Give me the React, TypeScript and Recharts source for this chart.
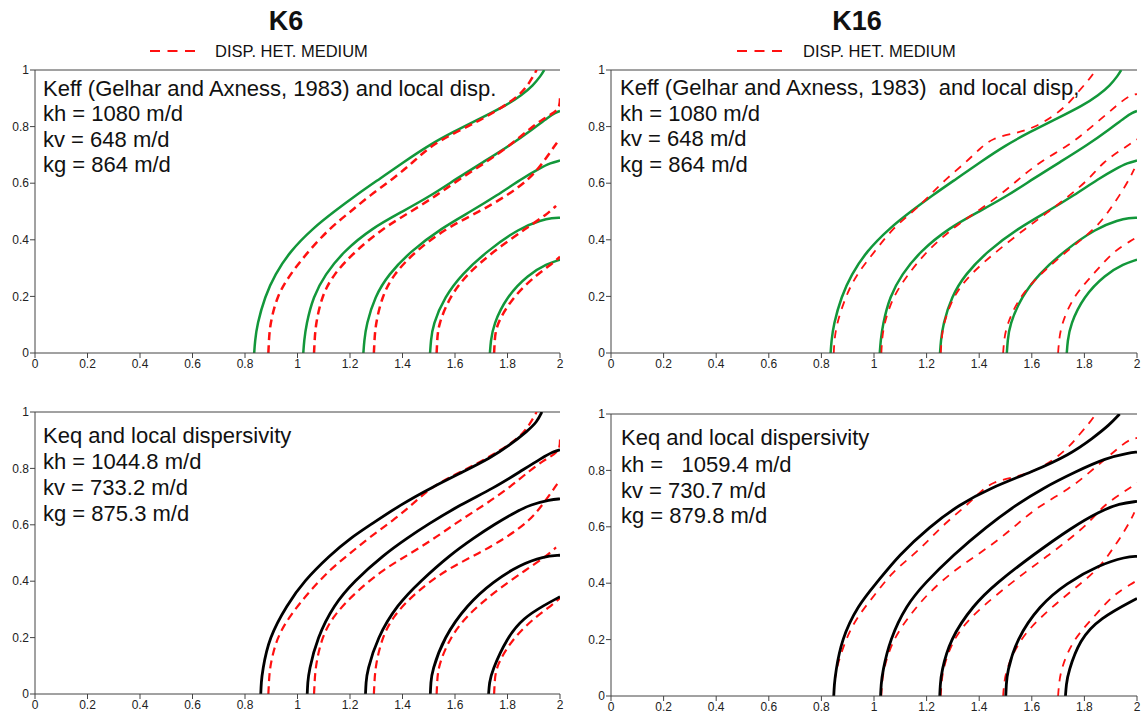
import React from 'react';
import { LineChart, Line, XAxis, YAxis, ReferenceLine } from 'recharts';

type Pair = [number, number];

const X_TICKS = [0, 0.2, 0.4, 0.6, 0.8, 1, 1.2, 1.4, 1.6, 1.8, 2];
const Y_TICKS = [0, 0.2, 0.4, 0.6, 0.8, 1];

// Keff (Gelhar and Axness) + local dispersivity — same in K6 and K16 (green)
const G1: Pair[] = [[0.835,0],[0.838,0.04],[0.846,0.1],[0.876,0.2],[0.914,0.277],[0.971,0.359],[1.06,0.442],[1.14,0.5],[1.222,0.557],[1.314,0.616],[1.405,0.675],[1.5,0.734],[1.593,0.781],[1.695,0.828],[1.795,0.875],[1.854,0.911],[1.898,0.946],[1.928,0.981],[1.94,1.0]];
const G2: Pair[] = [[1.022,0],[1.025,0.04],[1.033,0.1],[1.06,0.2],[1.105,0.277],[1.175,0.359],[1.285,0.442],[1.4,0.5],[1.51,0.557],[1.606,0.616],[1.708,0.675],[1.81,0.734],[1.899,0.793],[1.956,0.834],[1.985,0.85],[2.0,0.855]];
const G3: Pair[] = [[1.251,0],[1.254,0.04],[1.262,0.1],[1.295,0.2],[1.346,0.277],[1.43,0.359],[1.55,0.442],[1.66,0.5],[1.76,0.557],[1.855,0.616],[1.92,0.651],[1.965,0.672],[2.0,0.68]];
const G4: Pair[] = [[1.505,0],[1.508,0.04],[1.515,0.1],[1.562,0.2],[1.625,0.277],[1.72,0.359],[1.847,0.442],[1.93,0.47],[1.97,0.477],[2.0,0.478]];
const G5: Pair[] = [[1.733,0],[1.736,0.04],[1.746,0.1],[1.797,0.2],[1.879,0.277],[1.95,0.315],[2.0,0.33]];

// DISP. HET. MEDIUM — K6
const R6_1: Pair[] = [[0.889,0],[0.891,0.04],[0.895,0.1],[0.921,0.2],[0.971,0.277],[1.041,0.359],[1.124,0.442],[1.2,0.498],[1.276,0.557],[1.365,0.616],[1.441,0.675],[1.51,0.734],[1.606,0.781],[1.695,0.822],[1.771,0.863],[1.848,0.911],[1.886,0.958],[1.911,1.0]];
const R6_2: Pair[] = [[1.063,0],[1.065,0.04],[1.069,0.1],[1.092,0.2],[1.136,0.277],[1.219,0.359],[1.327,0.442],[1.43,0.498],[1.53,0.557],[1.619,0.616],[1.72,0.675],[1.81,0.734],[1.886,0.793],[1.937,0.828],[1.98,0.85],[2.0,0.87],[2.0,0.91]];
const R6_3: Pair[] = [[1.291,0],[1.293,0.04],[1.297,0.1],[1.322,0.2],[1.365,0.277],[1.448,0.359],[1.568,0.442],[1.69,0.498],[1.8,0.557],[1.886,0.616],[1.937,0.675],[1.981,0.734],[1.99,0.745]];
const R6_4: Pair[] = [[1.53,0],[1.532,0.04],[1.536,0.1],[1.581,0.2],[1.644,0.277],[1.746,0.359],[1.873,0.442],[1.95,0.49],[1.985,0.52]];
const R6_5: Pair[] = [[1.749,0],[1.751,0.04],[1.756,0.1],[1.822,0.2],[1.911,0.277],[1.97,0.315],[2.0,0.34]];

// DISP. HET. MEDIUM — K16
const R16_1: Pair[] = [[0.847,0],[0.849,0.04],[0.857,0.1],[0.892,0.2],[0.933,0.277],[1.003,0.359],[1.072,0.442],[1.148,0.498],[1.212,0.557],[1.275,0.616],[1.351,0.675],[1.4,0.72],[1.45,0.76],[1.54,0.777],[1.605,0.795],[1.681,0.835],[1.744,0.885],[1.783,0.93],[1.821,0.97],[1.843,1.0]];
const R16_2: Pair[] = [[1.028,0],[1.03,0.04],[1.037,0.1],[1.072,0.2],[1.129,0.277],[1.199,0.359],[1.3,0.442],[1.389,0.498],[1.478,0.557],[1.553,0.616],[1.629,0.675],[1.743,0.734],[1.819,0.793],[1.895,0.852],[1.946,0.893],[1.977,0.911],[2.0,0.915]];
const R16_3: Pair[] = [[1.254,0],[1.256,0.04],[1.263,0.1],[1.3,0.2],[1.364,0.277],[1.465,0.359],[1.579,0.442],[1.662,0.498],[1.744,0.557],[1.82,0.616],[1.871,0.675],[1.947,0.722],[2.0,0.755]];
const R16_4: Pair[] = [[1.491,0],[1.494,0.04],[1.504,0.1],[1.554,0.2],[1.63,0.277],[1.732,0.359],[1.845,0.442],[1.89,0.498],[1.934,0.557],[1.972,0.616],[1.99,0.651]];
const R16_5: Pair[] = [[1.7,0],[1.703,0.04],[1.712,0.1],[1.757,0.2],[1.833,0.277],[1.909,0.359],[1.98,0.398],[2.0,0.41]];

// Keq + local dispersivity — K6 (black)
const B6_1: Pair[] = [[0.86,0],[0.862,0.04],[0.866,0.08],[0.891,0.2],[0.961,0.317],[1.024,0.4],[1.126,0.494],[1.202,0.553],[1.278,0.6],[1.392,0.671],[1.506,0.73],[1.633,0.789],[1.735,0.837],[1.811,0.884],[1.874,0.931],[1.912,0.964],[1.931,1.0]];
const B6_2: Pair[] = [[1.037,0],[1.039,0.04],[1.043,0.08],[1.075,0.2],[1.139,0.317],[1.215,0.4],[1.329,0.494],[1.418,0.553],[1.494,0.6],[1.62,0.671],[1.747,0.73],[1.849,0.789],[1.931,0.837],[1.975,0.86],[2.0,0.866]];
const B6_3: Pair[] = [[1.259,0],[1.261,0.04],[1.265,0.08],[1.304,0.2],[1.38,0.317],[1.468,0.4],[1.582,0.494],[1.671,0.553],[1.747,0.6],[1.836,0.648],[1.887,0.671],[1.963,0.689],[2.0,0.692]];
const B6_4: Pair[] = [[1.506,0],[1.508,0.04],[1.512,0.08],[1.557,0.2],[1.646,0.317],[1.747,0.4],[1.849,0.459],[1.937,0.488],[2.0,0.492]];
const B6_5: Pair[] = [[1.728,0],[1.731,0.04],[1.74,0.08],[1.798,0.2],[1.861,0.27],[1.94,0.315],[2.0,0.345]];

// Keq + local dispersivity — K16 (black)
const B16_1: Pair[] = [[0.847,0],[0.849,0.04],[0.854,0.083],[0.876,0.2],[0.939,0.322],[1.009,0.4],[1.095,0.5],[1.211,0.6],[1.323,0.678],[1.44,0.737],[1.604,0.796],[1.744,0.856],[1.833,0.915],[1.896,0.962],[1.934,1.0]];
const B16_2: Pair[] = [[1.025,0],[1.027,0.04],[1.032,0.083],[1.06,0.2],[1.123,0.322],[1.193,0.4],[1.301,0.5],[1.427,0.6],[1.541,0.678],[1.642,0.737],[1.768,0.796],[1.882,0.844],[1.97,0.862],[2.0,0.865]];
const B16_3: Pair[] = [[1.25,0],[1.252,0.04],[1.256,0.083],[1.288,0.2],[1.377,0.322],[1.465,0.4],[1.604,0.5],[1.756,0.6],[1.857,0.654],[1.934,0.683],[2.0,0.69]];
const B16_4: Pair[] = [[1.501,0],[1.503,0.04],[1.506,0.083],[1.541,0.2],[1.63,0.322],[1.731,0.4],[1.857,0.465],[1.959,0.494],[2.0,0.495]];
const B16_5: Pair[] = [[1.728,0],[1.731,0.04],[1.738,0.083],[1.782,0.2],[1.857,0.275],[2.0,0.346]];

const GREEN = [G1, G2, G3, G4, G5];
const RED_K6 = [R6_1, R6_2, R6_3, R6_4, R6_5];
const RED_K16 = [R16_1, R16_2, R16_3, R16_4, R16_5];
const BLACK_K6 = [B6_1, B6_2, B6_3, B6_4, B6_5];
const BLACK_K16 = [B16_1, B16_2, B16_3, B16_4, B16_5];

const TITLES = ['K6', 'K16'];
const LEGEND_LABEL = 'DISP. HET. MEDIUM';
const TEXT_TL = ['Keff (Gelhar and Axness, 1983) and local disp.', 'kh = 1080 m/d', 'kv = 648 m/d', 'kg = 864 m/d'];
const TEXT_TR = ['Keff (Gelhar and Axness, 1983)  and local disp,', 'kh = 1080 m/d', 'kv = 648 m/d', 'kg = 864 m/d'];
const TEXT_BL = ['Keq and local dispersivity', 'kh = 1044.8 m/d', 'kv = 733.2 m/d', 'kg = 875.3 m/d'];
const TEXT_BR = ['Keq and local dispersivity', 'kh =   1059.4 m/d', 'kv = 730.7 m/d', 'kg = 879.8 m/d'];

const toPts = (c: Pair[]) => c.map(([x, y]) => ({ x, y }));

const FONT = '"Liberation Sans", Arial, sans-serif';
const AXIS = '#444';
const GREEN_C = '#12973a';
const RED_C = '#ff1010';

type PanelProps = {
  plotLeft: number; plotTop: number; plotRight: number; plotBottom: number;
  solid: Pair[][]; solidColor: string; solidWidth: number;
  dashed: Pair[][]; dashWidth: number; dashArray: string; redOnTop: boolean;
};

function Panel(p: PanelProps) {
  const ml = 35, mt = 10, mr = 10, xh = 30;
  const width = p.plotRight - p.plotLeft + ml + mr;
  const height = p.plotBottom - p.plotTop + mt + xh;
  const solidLines = p.solid.map((c, i) => (
    <Line key={'s' + i} yAxisId="l" data={toPts(c)} dataKey="y" type="basis" stroke={p.solidColor}
      strokeWidth={p.solidWidth} dot={false} activeDot={false} isAnimationActive={false} />
  ));
  const dashedLines = p.dashed.map((c, i) => (
    <Line key={'d' + i} yAxisId="l" data={toPts(c)} dataKey="y" type="basis" stroke={RED_C}
      strokeWidth={p.dashWidth} strokeDasharray={p.dashArray} dot={false} activeDot={false} isAnimationActive={false} />
  ));
  return (
    <div style={{ position: 'absolute', left: p.plotLeft - ml, top: p.plotTop - mt }}>
      <LineChart width={width} height={height} margin={{ top: mt, right: mr, bottom: 0, left: 0 }}>
        <XAxis type="number" dataKey="x" domain={[0, 2]} ticks={X_TICKS} interval={0} allowDataOverflow
          height={xh} stroke={AXIS} tickSize={5} tickMargin={1}
          tick={{ fontSize: 12, fill: '#222', fontFamily: FONT }} />
        <YAxis yAxisId="l" type="number" domain={[0, 1]} ticks={Y_TICKS} interval={0} allowDataOverflow
          width={ml} stroke={AXIS} tickSize={5} tickMargin={1}
          tick={{ fontSize: 12, fill: '#222', fontFamily: FONT }} />
        <YAxis yAxisId="r" orientation="right" type="number" domain={[0, 1]} ticks={Y_TICKS} interval={0}
          width={0} stroke={AXIS} tickSize={6} tickFormatter={() => ''} />
        <ReferenceLine yAxisId="l" y={1} stroke={AXIS} ifOverflow="extendDomain" />
        {p.redOnTop ? solidLines : dashedLines}
        {p.redOnTop ? dashedLines : solidLines}
      </LineChart>
    </div>
  );
}

function TextBlock({ x, baselines, lines }: { x: number; baselines: number[]; lines: string[] }) {
  return (
    <g>
      {lines.map((t, i) => (
        <text key={i} x={x} y={baselines[i]} fontSize={22} fill="#111" fontFamily={FONT} style={{ whiteSpace: 'pre' }}>{t}</text>
      ))}
    </g>
  );
}

function LegendItem({ x1, x2, tx }: { x1: number; x2: number; tx: number }) {
  return (
    <g>
      <line x1={x1} x2={x2} y1={51} y2={51} stroke={RED_C} strokeWidth={2} strokeDasharray="10 7.5" />
      <text x={tx} y={57} fontSize={16.5} fill="#111" fontFamily={FONT}>{LEGEND_LABEL}</text>
    </g>
  );
}

export default function App() {
  return (
    <div style={{ position: 'absolute', left: 0, top: 0, width: 1141, height: 719, overflow: 'hidden', background: '#fff' }}>
      <Panel plotLeft={35} plotTop={70} plotRight={560} plotBottom={353}
        solid={GREEN} solidColor={GREEN_C} solidWidth={2.5}
        dashed={RED_K6} dashWidth={2.5} dashArray="8 5" redOnTop={true} />
      <Panel plotLeft={611} plotTop={70} plotRight={1137} plotBottom={353}
        solid={GREEN} solidColor={GREEN_C} solidWidth={2.5}
        dashed={RED_K16} dashWidth={1.8} dashArray="8 7" redOnTop={true} />
      <Panel plotLeft={35} plotTop={412} plotRight={560} plotBottom={694}
        solid={BLACK_K6} solidColor="#000" solidWidth={2.8}
        dashed={RED_K6} dashWidth={2.2} dashArray="8 5" redOnTop={false} />
      <Panel plotLeft={611} plotTop={414} plotRight={1137} plotBottom={696}
        solid={BLACK_K16} solidColor="#000" solidWidth={2.8}
        dashed={RED_K16} dashWidth={1.8} dashArray="8 7" redOnTop={false} />
      <svg width={1141} height={719} style={{ position: 'absolute', left: 0, top: 0, pointerEvents: 'none' }}>
        <text x={286} y={30} fontSize={27} fontWeight="bold" textAnchor="middle" fill="#111" fontFamily={FONT}>{TITLES[0]}</text>
        <text x={857} y={30} fontSize={27} fontWeight="bold" textAnchor="middle" fill="#111" fontFamily={FONT}>{TITLES[1]}</text>
        <LegendItem x1={150} x2={195} tx={215} />
        <LegendItem x1={737} x2={783} tx={803} />
        <TextBlock x={43} baselines={[96, 121, 146.5, 172]} lines={TEXT_TL} />
        <TextBlock x={620} baselines={[95, 120.5, 146, 171.5]} lines={TEXT_TR} />
        <TextBlock x={43} baselines={[443, 469, 495, 520.5]} lines={TEXT_BL} />
        <TextBlock x={621} baselines={[445, 471.5, 497.5, 523]} lines={TEXT_BR} />
      </svg>
    </div>
  );
}
